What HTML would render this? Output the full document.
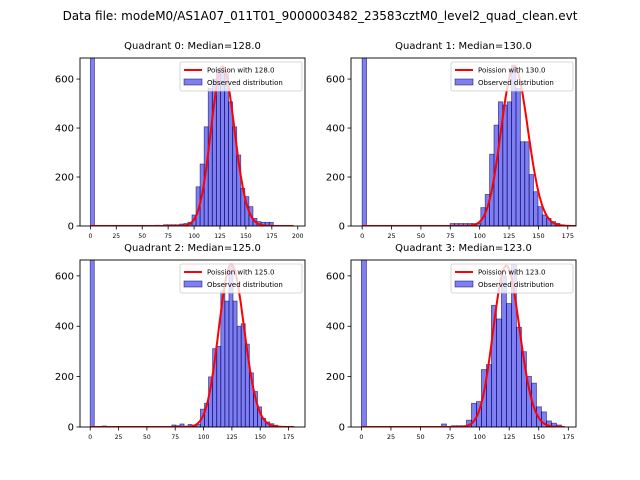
<!DOCTYPE html>
<html><head><meta charset="utf-8"><style>
html,body{margin:0;padding:0;background:#fff;}
svg{display:block;font-family:"DejaVu Sans","Liberation Sans",sans-serif;}
</style></head><body>
<svg id="fig" width="640" height="480" xmlns="http://www.w3.org/2000/svg">
<rect width="640" height="480" fill="#fff"/>
<text x="320" y="20" text-anchor="middle" font-size="12" fill="#000">Data file: modeM0/AS1A07_011T01_9000003482_23583cztM0_level2_quad_clean.evt</text>
</svg>
<script>
const NS="http://www.w3.org/2000/svg";
const titles=["Quadrant 0: Median=128.0","Quadrant 1: Median=130.0","Quadrant 2: Median=125.0","Quadrant 3: Median=123.0"];
const medians=[128,130,125,123];
const binWidths=[3.92,3.74,3.6,4.23];
const peakAmps=[650,650,645,640];
const q0Counts=[2000,0,0,0,0,0,0,0,0,0,0,0,0,0,0,0,3,0,5,5,5,5,8,10,15,45,160,253,405,562,600,640,650,620,507,405,290,154,120,79,31,18,15,15,15,0,0,0,0,0];
const q1Counts=[2000,0,0,0,0,0,0,0,0,0,0,0,0,0,0,0,0,0,0,0,10,10,10,10,10,10,10,75,129,293,412,507,494,507,657,562,344,344,210,140,79,45,31,18,11,5,0,0,0,0];
const q2Counts=[2000,0,0,4,0,0,0,0,0,0,0,0,0,0,0,0,0,0,0,0,8,5,12,3,10,3,10,71,94,199,311,320,540,500,640,500,400,410,329,215,141,80,34,20,13,7,0,0,0,0];
const q3Counts=[2000,0,0,0,0,0,0,0,0,0,0,0,0,0,0,0,12,0,5,5,5,27,94,101,228,248,483,429,600,490,644,396,299,201,174,80,60,24,15,8];
const allCounts=[q0Counts,q1Counts,q2Counts,q3Counts];
const xTicks0=[0,25,50,75,100,125,150,175,200];
const xTicks1=[0,25,50,75,100,125,150,175];
const xTickSets=[xTicks0,xTicks1,xTicks1,xTicks1];
const yTicks=[0,200,400,600];
const xDomains=[[-10,207],[-9.5,182],[-9,189.5],[-8.8,181.5]];
const yMaxs=[686,686,663,663];
const boxes=[[80,58,225,168],[351,58,225,168],[80,260,225,167],[351,260,225,167]];
const tickFont=[6,6.5,6,6.5];
const fig=document.getElementById('fig');
function mk(tag,attrs,parent){const e=document.createElementNS(NS,tag);for(const k in attrs)e.setAttribute(k,attrs[k]);(parent||fig).appendChild(e);return e;}
function lgamma(n){let s=0;for(let i=2;i<=n;i++)s+=Math.log(i);return s;}
for(let q=0;q<4;q++){
  const [bx,by,bw,bh]=boxes[q];const [d0,d1]=xDomains[q];const ym=yMaxs[q];
  const X=v=>bx+(v-d0)/(d1-d0)*bw;const Y=v=>by+bh-v/ym*bh;
  const g=mk('g',{});
  
  
  const clipId='c'+q;
  const cp=mk('clipPath',{id:clipId},g);mk('rect',{x:bx,y:by,width:bw,height:bh},cp);
  const plot=mk('g',{'clip-path':'url(#'+clipId+')'},g);
  const counts=allCounts[q];const w=binWidths[q];
  counts.forEach((c,i)=>{if(c<=0)return;
    const r=mk('rect',{x:X(i*w),y:Y(c),width:X((i+1)*w)-X(i*w),height:Y(0)-Y(c),fill:'rgba(0,0,230,0.5)',stroke:'rgba(0,0,90,0.6)','stroke-width':0.8},plot);
    
    
  });
  const lam=medians[q];const peak=Math.exp(-lam+lam*Math.log(lam)-lgamma(lam));
  let pts=[];const xmax=[196,187,180,172][q];
  for(let k=0;k<=xmax;k++){const p=Math.exp(-lam+k*Math.log(lam)-lgamma(k));pts.push(X(k).toFixed(1)+','+Y(p/peak*peakAmps[q]).toFixed(1));}
  const pl=mk('polyline',{points:pts.join(' '),fill:'none',stroke:'#ff0000','stroke-width':2},plot);
  
  
  mk('rect',{x:bx,y:by,width:bw,height:bh,fill:'none',stroke:'#000','stroke-width':0.9},g);
  xTickSets[q].forEach(t=>{mk('line',{x1:X(t),x2:X(t),y1:by+bh,y2:by+bh+3.5,stroke:'#000','stroke-width':0.8},g);
    const tx=mk('text',{x:X(t),y:by+bh+12,'text-anchor':'middle','font-size':tickFont[q]},g);tx.textContent=t;
    
    });
  yTicks.forEach(t=>{mk('line',{x1:bx-3.5,x2:bx,y1:Y(t),y2:Y(t),stroke:'#000','stroke-width':0.8},g);
    const tx=mk('text',{x:bx-6,y:Y(t)+3.5,'text-anchor':'end','font-size':10},g);tx.textContent=t;
    
    });
  const tt=mk('text',{x:bx+bw/2,y:by-9,'text-anchor':'middle','font-size':10},g);tt.textContent=titles[q];
  
  
  const lg=mk('g',{},g);
  
  
  const lx=bx+bw-125,ly=by+4;
  mk('rect',{x:lx,y:ly,width:122,height:29,fill:'rgba(255,255,255,0.8)',stroke:'#ccc','stroke-width':0.8,rx:2},lg);
  mk('line',{x1:lx+4,x2:lx+22,y1:ly+8,y2:ly+8,stroke:'#f00','stroke-width':2},lg);
  const t1=mk('text',{x:lx+27,y:ly+10.5,'font-size':7},lg);t1.textContent='Poission with '+medians[q].toFixed(1);
  mk('rect',{x:lx+4,y:ly+17,width:18,height:6,fill:'rgba(0,0,230,0.5)',stroke:'rgba(0,0,90,0.6)','stroke-width':0.8},lg);
  const t2=mk('text',{x:lx+27,y:ly+23,'font-size':7},lg);t2.textContent='Observed distribution';
}
</script>
</body></html>
